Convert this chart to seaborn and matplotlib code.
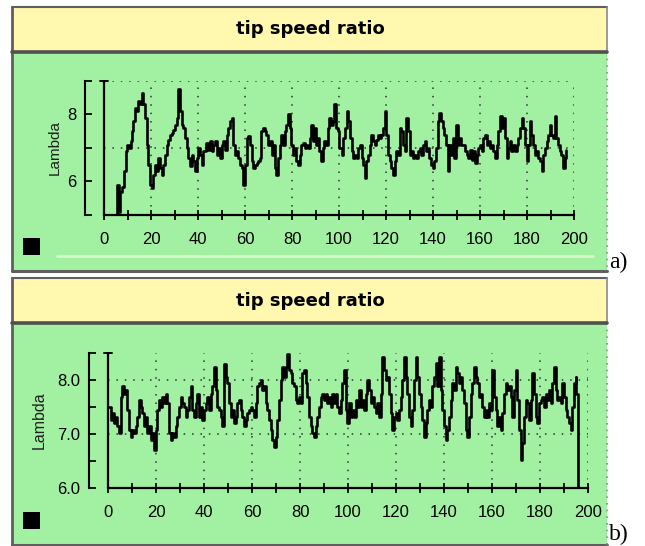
import numpy as np
import pandas as pd
import matplotlib
matplotlib.use("Agg")
import matplotlib.pyplot as plt
from matplotlib.patches import Rectangle
from matplotlib.lines import Line2D
import seaborn as sns

# ---------------- data ----------------
title_text = "tip speed ratio"
ylabel_text = "Lambda"
panel_tags = ["a)", "b)"]

xticks = [0, 20, 40, 60, 80, 100, 120, 140, 160, 180, 200]

# panel a : time (s) and lambda
t_a1 = [5.0, 5.6, 6.3, 7.0, 7.8, 8.5, 9.2, 9.9, 10.6, 11.3,
        12.0, 12.5, 13.2, 13.9, 14.6, 15.3, 16.0, 16.6, 17.4, 18.2,
        18.9, 19.6, 20.3, 21.0, 21.7, 22.4, 23.1, 23.8, 24.5, 25.2,
        25.9, 26.7, 27.4, 28.1, 28.8, 29.5, 30.2, 30.9, 31.6, 32.3,
        33.0, 33.7, 34.5, 35.2, 35.9, 36.6, 37.3, 38.0, 38.7, 39.4,
        40.1, 40.8, 41.5, 42.3, 43.4, 44.4, 45.1, 45.8, 46.5, 47.2,
        47.9, 48.6, 49.4]
v_a1 = [4.5, 5.9, 5.1, 5.7, 5.85, 6.3, 6.9, 7.1, 7.0, 7.2,
        7.5, 7.8, 8.2, 8.1, 8.4, 8.3, 8.65, 8.3, 7.9, 7.1,
        6.5, 5.9, 5.8, 6.2, 6.5, 6.3, 6.7, 6.4, 6.2, 6.5,
        6.8, 7.1, 7.25, 7.4, 7.45, 7.55, 7.7, 7.9, 8.75, 8.1,
        7.7, 7.6, 7.3, 7.0, 6.7, 6.45, 6.8, 6.6, 6.3, 6.7,
        7.0, 6.8, 6.5, 6.9, 7.15, 6.95, 7.2, 6.9, 7.1, 7.2,
        6.8, 7.0, 6.7]
t_a2 = [50.1, 50.8, 51.5, 52.2, 52.9, 53.6, 54.3, 55.0, 55.8, 56.5,
        57.2, 57.9, 58.6, 59.3, 60.0, 60.7, 61.4, 62.1, 62.8, 63.5,
        64.2, 64.9, 65.6, 66.3, 67.0, 67.7, 68.4, 69.1, 69.8, 70.5,
        71.3, 72.0, 72.7, 73.4, 74.1, 74.8, 75.5, 76.2, 76.9, 77.6,
        78.3, 79.0, 79.7, 80.4, 81.1, 81.8, 82.5, 83.2, 83.9, 84.6,
        85.4, 86.1, 86.8, 87.5, 88.2, 88.9, 89.6, 90.3, 91.0, 91.7,
        92.4, 93.1, 93.8, 94.5, 95.2, 95.9, 96.6, 97.3, 98.0, 98.7,
        99.4, 100.1]
v_a2 = [7.1, 7.2, 6.95, 7.4, 7.6, 7.8, 7.9, 7.1, 6.8, 6.9,
        6.7, 6.5, 6.4, 5.9, 6.5, 7.3, 7.35, 7.1, 6.6, 6.4,
        6.5, 6.55, 6.6, 6.7, 7.5, 7.6, 7.5, 7.4, 7.1, 7.2,
        6.8, 7.1, 6.4, 6.2, 6.7, 7.1, 7.4, 7.1, 7.5, 7.7,
        8.0, 7.6, 7.1, 6.8, 7.0, 6.6, 6.5, 6.8, 7.1, 7.15,
        7.0, 7.1, 7.0, 7.3, 7.7, 7.2, 7.6, 7.1, 7.3, 6.9,
        6.6, 7.0, 7.2, 7.1, 7.6, 7.9, 7.7, 7.8, 8.3, 7.6,
        7.5, 7.0]
t_a3 = [101.1, 101.8, 102.5, 103.2, 103.9, 104.6, 105.4, 106.1, 106.8, 107.5,
        108.2, 108.9, 109.6, 110.3, 111.0, 111.7, 112.4, 113.1, 113.8, 114.5,
        115.2, 115.9, 116.6, 117.3, 118.0, 118.7, 119.4, 120.1, 120.9, 121.6,
        122.3, 123.0, 123.7, 124.4, 125.1, 125.8, 126.5, 127.2, 127.9, 128.6,
        129.3, 130.0, 130.7, 131.4, 132.1, 132.8, 133.6, 134.3, 135.0, 135.7,
        136.4, 137.1, 137.8, 138.5, 139.2, 139.9, 140.6, 141.3, 142.0, 142.7,
        143.4, 144.1, 144.8, 145.5, 146.3, 147.0, 147.7, 148.4, 149.1, 149.8,
        150.5, 151.2, 152.0]
v_a3 = [6.8, 7.3, 7.6, 8.1, 7.8, 7.3, 6.9, 6.7, 6.8, 6.7,
        7.0, 7.1, 6.7, 6.5, 6.1, 6.6, 6.8, 7.1, 7.4, 7.2,
        7.1, 7.25, 7.4, 7.3, 7.4, 7.6, 8.1, 7.4, 6.8, 6.6,
        6.4, 6.2, 6.6, 6.9, 6.8, 7.6, 7.5, 7.1, 6.9, 7.9,
        7.5, 6.8, 6.9, 6.7, 6.8, 6.7, 6.9, 7.0, 6.8, 7.1,
        7.2, 6.9, 7.0, 6.7, 6.5, 6.4, 6.6, 7.0, 7.8, 8.05,
        7.8, 7.6, 7.4, 7.1, 6.3, 7.1, 6.8, 7.3, 6.7, 7.7,
        7.1, 7.3, 7.1]
t_a4 = [152.9, 153.6, 154.3, 155.0, 155.7, 156.4, 157.2, 157.9, 158.6, 159.3,
        160.0, 160.7, 161.4, 162.1, 162.8, 163.5, 164.2, 164.9, 165.7, 166.4,
        167.1, 167.8, 168.5, 169.2, 169.9, 170.6, 171.3, 172.0, 172.7, 173.4,
        174.2, 174.9, 175.6, 176.3, 177.0, 177.7, 178.4, 179.1, 179.8, 180.5,
        181.2, 181.9, 182.6, 183.3, 184.0, 184.8, 185.5, 186.2, 186.9, 187.6,
        188.3, 189.0, 189.7, 190.4, 191.1, 191.8, 192.5, 193.2, 193.9, 194.6,
        195.4, 196.1, 196.8]
v_a4 = [7.1, 6.9, 6.8, 6.7, 6.95, 6.65, 6.9, 6.55, 6.8, 7.0,
        7.1, 6.9, 7.3, 7.4, 7.1, 7.2, 7.0, 7.1, 6.9, 6.7,
        7.1, 7.5, 7.95, 7.6, 7.9, 7.3, 6.7, 7.0, 7.2, 6.9,
        7.1, 6.9, 7.1, 7.3, 7.6, 7.9, 7.6, 7.1, 6.6, 7.1,
        7.8, 7.4, 7.1, 6.8, 6.9, 6.7, 6.6, 6.3, 6.8, 7.0,
        7.2, 7.4, 7.7, 7.4, 7.3, 7.95, 7.3, 7.1, 6.9, 6.8,
        6.4, 6.7, 6.95]

# panel b : time (s) and lambda
t_b1 = [0.4, 1.1, 1.8, 2.5, 3.2, 3.9, 4.6, 5.3, 6.0, 6.7,
        7.4, 8.1, 8.8, 9.4, 10.1, 10.8, 11.5, 12.2, 12.9, 13.6,
        14.3, 15.0, 15.7, 16.4, 17.1, 17.8, 18.5, 19.2, 19.9, 20.6,
        21.3, 22.0, 22.6, 23.3, 24.0, 24.7, 25.4, 26.1, 26.8, 27.5,
        28.2, 28.9, 29.6, 30.3, 31.0, 31.7, 32.4, 33.1, 33.8, 34.4,
        35.1, 35.8, 36.5, 37.2, 37.9, 38.6, 39.3, 40.0, 40.7, 41.4,
        42.1, 42.8, 43.5, 44.2, 44.9, 45.6, 46.3, 47.0, 47.7]
v_b1 = [7.5, 7.26, 7.38, 7.2, 7.32, 7.14, 7.02, 7.69, 7.88, 7.75,
        7.81, 7.44, 7.07, 6.95, 7.07, 7.01, 7.14, 7.32, 7.63, 7.5,
        7.38, 7.14, 7.32, 7.01, 7.14, 6.89, 7.01, 6.7, 7.07, 7.44,
        7.63, 7.5, 7.69, 7.57, 7.75, 7.57, 7.01, 6.89, 7.01, 6.95,
        7.14, 7.32, 7.5, 7.69, 7.57, 7.5, 7.32, 7.44, 7.69, 7.88,
        7.44, 7.32, 7.57, 7.75, 7.32, 7.5, 7.26, 7.44, 7.57, 7.69,
        7.44, 7.75, 7.88, 8.25, 7.81, 7.5, 7.44, 7.32, 7.14]
t_b2 = [48.3, 49.0, 49.7, 50.4, 51.1, 51.8, 52.5, 53.2, 53.9, 54.6,
        55.3, 56.0, 56.7, 57.4, 58.1, 58.8, 59.4, 60.1, 60.8, 61.5,
        62.2, 62.9, 63.6, 64.3, 65.0, 65.7, 66.4, 67.1, 67.8, 68.5,
        69.2, 69.9, 70.6, 71.3, 72.0, 72.6, 73.3, 74.0, 74.7, 75.4,
        76.1, 76.8, 77.5, 78.2, 78.9, 79.6, 80.3, 81.0, 81.7, 82.4,
        83.1, 83.8, 84.4, 85.1, 85.8, 86.5, 87.2, 87.9, 88.6, 89.3,
        90.0, 90.7, 91.4, 92.1, 92.8, 93.5, 94.2, 94.9, 95.6, 96.3,
        97.0, 97.7]
v_b2 = [8.3, 8.06, 7.94, 7.57, 7.32, 7.44, 7.2, 7.32, 7.57, 7.63,
        7.44, 7.32, 7.14, 7.26, 7.38, 7.44, 7.5, 7.44, 7.32, 7.57,
        7.88, 7.94, 8.0, 7.81, 7.88, 7.57, 7.44, 7.26, 7.07, 6.89,
        6.76, 6.95, 7.26, 7.63, 8.0, 8.25, 8.06, 8.25, 8.49, 8.19,
        8.13, 7.94, 7.88, 7.63, 7.57, 7.69, 7.57, 8.13, 8.19, 7.94,
        7.69, 7.32, 7.14, 7.01, 6.95, 7.14, 7.32, 7.5, 7.69, 7.75,
        7.63, 7.75, 7.57, 7.69, 7.5, 7.75, 7.57, 7.75, 7.5, 7.38,
        7.63, 7.94]
t_b3 = [98.3, 99.0, 99.7, 100.4, 101.1, 101.8, 102.5, 103.2, 103.9, 104.6,
        105.3, 106.0, 106.7, 107.4, 108.1, 108.8, 109.4, 110.1, 110.8, 111.5,
        112.2, 112.9, 113.6, 114.3, 115.0, 115.7, 116.4, 117.1, 117.8, 118.5,
        119.2, 119.9, 120.6, 121.3, 122.0, 122.6, 123.3, 124.0, 124.7, 125.4,
        126.1, 126.8, 127.5, 128.2, 128.9, 129.6, 130.3, 131.0, 131.7, 132.4,
        133.1, 133.8, 134.4, 135.1, 135.8, 136.5, 137.2, 137.9, 138.6, 139.3,
        140.0, 140.7, 141.4, 142.1, 142.8, 143.5, 144.2, 144.9, 145.6, 146.3,
        147.0, 147.7]
v_b3 = [8.19, 7.44, 7.2, 7.57, 7.32, 7.44, 7.32, 7.63, 7.5, 7.81,
        7.5, 7.63, 7.44, 7.75, 8.0, 7.81, 7.57, 7.69, 7.5, 7.38,
        7.57, 7.32, 7.75, 8.43, 8.19, 8.0, 8.06, 7.75, 7.38, 7.07,
        7.32, 7.38, 7.26, 7.44, 7.69, 8.0, 8.43, 8.06, 7.75, 7.32,
        7.14, 7.44, 8.0, 8.43, 8.06, 7.75, 7.5, 7.26, 6.95, 7.2,
        7.44, 7.63, 7.5, 7.88, 8.06, 8.31, 7.88, 8.43, 7.81, 7.44,
        7.14, 6.89, 7.07, 7.32, 7.63, 7.94, 7.81, 8.25, 8.13, 7.94,
        8.06, 7.81]
t_b4 = [148.4, 149.0, 149.7, 150.4, 151.1, 151.8, 152.5, 153.2, 153.9, 154.6,
        155.3, 156.0, 156.7, 157.4, 158.1, 158.8, 159.4, 160.1, 160.8, 161.5,
        162.2, 162.9, 163.6, 164.3, 165.0, 165.7, 166.4, 167.1, 167.8, 168.5,
        169.2, 169.9, 170.6, 171.3, 172.0, 172.2, 172.6, 173.3, 174.0, 174.7,
        175.4, 176.1, 176.8, 177.5, 178.2, 178.9, 179.6, 180.3, 181.0, 181.7,
        182.4, 183.1, 183.8, 184.4, 185.1, 185.8, 186.5, 187.2, 187.9, 188.6,
        189.3, 190.0, 190.7, 191.4, 192.1, 192.8, 193.5, 194.2, 194.9, 195.2,
        195.8, 195.9]
v_b4 = [7.57, 7.07, 6.95, 7.32, 7.75, 7.94, 8.25, 8.06, 7.94, 7.69,
        7.75, 7.5, 7.32, 7.44, 7.32, 7.57, 7.44, 8.19, 7.69, 7.44,
        7.14, 7.32, 7.07, 7.38, 7.75, 7.94, 7.81, 7.88, 7.69, 7.32,
        7.81, 8.19, 7.63, 7.07, 6.89, 6.52, 6.83, 7.32, 7.63, 7.57,
        7.26, 7.63, 8.13, 7.75, 7.32, 7.2, 7.57, 7.63, 7.69, 7.5,
        7.75, 7.63, 7.81, 7.57, 7.94, 8.25, 7.81, 7.63, 7.69, 7.57,
        7.94, 7.69, 7.44, 7.32, 7.2, 7.07, 7.5, 7.94, 8.06, 7.75,
        7.75, 0.0]

# y-axis settings per panel
ylim_a = (5, 9)
yticks_a = [5, 6, 7, 8, 9]
ylabels_a = ["", "6", "", "8", ""]
ygrid_a = [7, 9]

ylim_b = (6.0, 8.5)
yticks_b = [6.0, 6.5, 7.0, 7.5, 8.0, 8.5]
ylabels_b = ["6.0", "", "7.0", "", "8.0", ""]
ygrid_b = [7.0, 8.0]

xgrid = [20, 40, 60, 80, 100, 120, 140, 160, 180, 200]

df_a = pd.DataFrame({"t": t_a1 + t_a2 + t_a3 + t_a4,
                     "lam": v_a1 + v_a2 + v_a3 + v_a4})
df_b = pd.DataFrame({"t": t_b1 + t_b2 + t_b3 + t_b4,
                     "lam": v_b1 + v_b2 + v_b3 + v_b4})

# ---------------- style ----------------
sns.set_style("white")
plt.rcParams["font.family"] = ["Liberation Sans", "DejaVu Sans"]

W, H = 645, 546
fig = plt.figure(figsize=(W / 100, H / 100), dpi=100)
fig.patch.set_facecolor("white")

YELLOW = "#FFF8AE"
GREEN = "#A2F0A2"
BORDER = "#5f5f5f"


def frect(x, y, w, h, **kw):
    r = Rectangle((x / W, 1 - (y + h) / H), w / W, h / H,
                  transform=fig.transFigure, **kw)
    fig.add_artist(r)
    return r


def fline(xs, ys, **kw):
    fig.add_artist(Line2D([x / W for x in xs], [1 - y / H for y in ys],
                          transform=fig.transFigure, **kw))


def panel(top, title_bottom, bottom, sq_y, tag, tag_y, faint=None):
    left, right = 12, 607
    frect(left, top, right - left, title_bottom - top, facecolor=YELLOW,
          edgecolor="none", zorder=0)
    frect(left, title_bottom, right - left, bottom - title_bottom,
          facecolor=GREEN, edgecolor="none", zorder=0)
    # borders
    fline([left, right], [top, top], color=BORDER, lw=1.5, zorder=1)
    fline([left, left], [top, bottom], color=BORDER, lw=2.0, zorder=1)
    fline([left, right], [bottom, bottom], color=BORDER, lw=2.2, zorder=1)
    fline([right, right], [top, title_bottom], color="#8a8a8a", lw=1.2, zorder=1)
    fline([right, right], [title_bottom, bottom], color="#8a8a8a", lw=1.2,
          ls=(0, (1, 3)), zorder=1)
    fline([left, right], [title_bottom, title_bottom], color="#505050",
          lw=2.6, zorder=1)
    if faint is not None:
        fline([57, 593], [faint, faint], color="#d6f7c8", lw=2.0, zorder=1)
    # title
    fig.text(310 / W, 1 - ((top + title_bottom) / 2) / H, title_text,
             ha="center", va="center", fontsize=13, fontweight="bold",
             family=["DejaVu Sans"], color="black")
    # black square
    frect(23, sq_y, 17, 17, facecolor="black", edgecolor="none", zorder=2)
    # tag
    fig.text(609 / W, 1 - tag_y / H, tag, ha="left", va="baseline",
             fontsize=17, family=["Liberation Serif", "DejaVu Serif"],
             color="black")


panel(7, 52, 271, 238, panel_tags[0], 268, faint=256)
panel(278, 323, 545, 512, panel_tags[1], 540)


def make_axes(rect, df, ylim, yticks, ylabels, ygrid, ylab_x, ylab_size):
    ax = fig.add_axes(rect)
    ax.set_facecolor("none")
    ax.patch.set_alpha(0)
    sns.lineplot(data=df, x="t", y="lam", ax=ax, color="black", lw=1.9,
                 estimator=None, sort=False, zorder=3, drawstyle="steps-post")
    ax.set_xlim(0, 200)
    ax.set_ylim(*ylim)
    # dotted grid
    for gx in xgrid:
        ax.axvline(gx, color="#303030", lw=1.1, ls=(0, (1, 4.5)), zorder=1)
    for gy in ygrid:
        ax.axhline(gy, color="#303030", lw=1.1, ls=(0, (1, 4.5)), zorder=1)
    # y-axis line at t = 0 with cap
    ax.axvline(0, color="black", lw=1.6, zorder=4, clip_on=False)
    ax.axhline(ylim[1], xmin=-0.008, xmax=0.008, color="black", lw=1.4,
               clip_on=False, zorder=4)
    # spines
    for s in ["top", "right"]:
        ax.spines[s].set_visible(False)
    ax.spines["left"].set_position(("outward", 14))
    ax.spines["left"].set_color("black")
    ax.spines["left"].set_linewidth(1.5)
    ax.spines["bottom"].set_color("black")
    ax.spines["bottom"].set_linewidth(1.6)
    ax.spines["bottom"].set_zorder(5)
    # ticks
    ax.set_yticks(yticks)
    ax.set_yticklabels(ylabels)
    ax.tick_params(axis="y", direction="in", length=5, width=1.3, pad=6,
                   labelsize=12, colors="black", left=True)
    ax.set_xticks(np.arange(0, 201, 10))
    ax.set_xticklabels([str(int(v)) if v in xticks else ""
                        for v in np.arange(0, 201, 10)])
    ax.tick_params(axis="x", direction="inout", length=7, width=1.3, pad=9,
                   labelsize=12, colors="black", bottom=True)
    ax.set_xlabel("")
    ax.set_ylabel(ylabel_text, fontsize=ylab_size, color="#202020")
    ax.yaxis.set_label_coords(ylab_x, 0.5)
    ax.grid(False)
    return ax


ax_a = make_axes([104 / W, 1 - 215 / H, 470 / W, 134 / H], df_a, ylim_a,
                 yticks_a, ylabels_a, ygrid_a, -0.089, 11)
ax_b = make_axes([108 / W, 1 - 488 / H, 480 / W, 135 / H], df_b, ylim_b,
                 yticks_b, ylabels_b, ygrid_b, -0.127, 11.5)

fig.savefig("out.png", dpi=100, facecolor="white")
